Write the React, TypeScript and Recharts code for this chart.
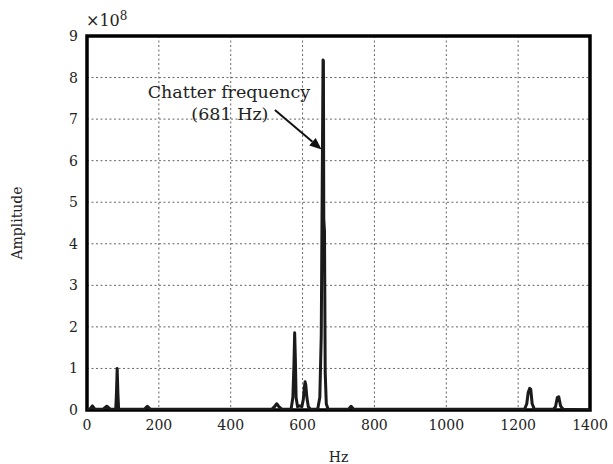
import React from "react";
import { LineChart, Line, XAxis, YAxis, CartesianGrid, ReferenceArea, ReferenceLine } from "recharts";

// Frequency (Hz)
const freqHz = [
  0, 8, 15, 22, 45, 55, 65, 80, 82, 84, 86, 88, 160, 168, 176,
  515, 522, 528, 534, 542, 568, 573, 576, 578, 580, 582, 586, 592, 598, 602, 605, 607, 609, 612, 616, 622,
  642, 648, 652, 655, 657, 658, 659, 661, 663, 666, 671,
  728, 735, 742,
  1218, 1224, 1228, 1232, 1235, 1239, 1245,
  1298, 1304, 1309, 1313, 1318, 1325, 1400,
];
// Amplitude (x10^8)
const amplitude = [
  0, 0.02, 0.1, 0.02, 0.02, 0.09, 0.02, 0.02, 0.4, 1.0, 0.4, 0.02, 0.02, 0.09, 0.02,
  0.02, 0.08, 0.15, 0.08, 0.02, 0.02, 0.3, 1.1, 1.86, 1.2, 0.3, 0.08, 0.1, 0.08, 0.25, 0.55, 0.68, 0.6, 0.3, 0.08, 0.02,
  0.02, 0.3, 1.8, 5.8, 8.42, 8.4, 4.6, 4.3, 0.9, 0.15, 0.02,
  0.02, 0.09, 0.02,
  0.02, 0.15, 0.42, 0.52, 0.5, 0.15, 0.02,
  0.02, 0.08, 0.3, 0.32, 0.1, 0.02, 0,
];
const xTicks = [0, 200, 400, 600, 800, 1000, 1200, 1400];
const yTicks = [0, 1, 2, 3, 4, 5, 6, 7, 8, 9];
const annotationLines = ["Chatter frequency", "(681 Hz)"];
const arrowFrom = { x: 523, y: 7.22 };
const arrowTo = { x: 653, y: 6.27 };

const data = freqHz.map((f, i) => ({ f, a: amplitude[i] }));

const FONT = "'DejaVu Serif', 'Liberation Serif', serif";

const ArrowShape = (props: any) => {
  const { x1, y1, x2, y2 } = props;
  if ([x1, y1, x2, y2].some((v) => typeof v !== "number" || isNaN(v))) return null;
  const ang = Math.atan2(y2 - y1, x2 - x1);
  const L = 12, W = 5;
  const bx = x2 - L * Math.cos(ang), by = y2 - L * Math.sin(ang);
  const px = -Math.sin(ang) * W, py = Math.cos(ang) * W;
  return (
    <g>
      <line x1={x1} y1={y1} x2={bx} y2={by} stroke="#111" strokeWidth={2} />
      <polygon points={`${x2},${y2} ${bx + px},${by + py} ${bx - px},${by - py}`} fill="#111" />
      <text x={x1 - 46} y={y1 - 12} textAnchor="middle" fontFamily={FONT} fontSize={17.5} fill="#222">
        {annotationLines[0]}
      </text>
      <text x={x1 - 45} y={y1 + 10} textAnchor="middle" fontFamily={FONT} fontSize={17.5} fill="#222">
        {annotationLines[1]}
      </text>
    </g>
  );
};

export default function App() {
  return (
    <div style={{ position: "absolute", left: 0, top: 0, width: 613, height: 464, background: "#fff" }}>
      <LineChart width={613} height={464} data={data} margin={{ top: 36, right: 23, bottom: 24, left: 47 }}>
        <CartesianGrid stroke="#666" strokeDasharray="2 2.5" strokeWidth={1} />
        <XAxis
          dataKey="f"
          type="number"
          domain={[0, 1400]}
          ticks={xTicks}
          allowDataOverflow
          axisLine={false}
          tickLine={false}
          tickSize={0}
          tickMargin={10}
          height={30}
          tick={{ fontFamily: FONT, fontSize: 14, fill: "#222" }}
          label={{ value: "Hz", position: "insideBottom", offset: -22, fontFamily: FONT, fontSize: 14, fill: "#222" }}
        />
        <YAxis
          type="number"
          domain={[0, 9]}
          ticks={yTicks}
          allowDataOverflow
          axisLine={false}
          tickLine={false}
          tickSize={0}
          tickMargin={9}
          width={40}
          tick={{ fontFamily: FONT, fontSize: 14, fill: "#222" }}
          label={{ value: "Amplitude", angle: -90, position: "insideLeft", offset: -30, fontFamily: FONT, fontSize: 14, fill: "#222", style: { textAnchor: "middle" } }}
        />
        <Line
          type="linear"
          dataKey="a"
          stroke="#1a1a1a"
          strokeWidth={3}
          dot={false}
          isAnimationActive={false}
          strokeLinejoin="round"
        />
        <ReferenceArea x1={0} x2={1400} y1={0} y2={9} fill="none" stroke="#000" strokeWidth={3.5} ifOverflow="visible" />
        <ReferenceLine
          segment={[arrowFrom, arrowTo]}
          ifOverflow="visible"
          shape={ArrowShape}
        />
      </LineChart>
      <div
        style={{
          position: "absolute",
          left: 86,
          top: 8,
          fontFamily: FONT,
          fontSize: 16,
          color: "#222",
          lineHeight: "16px",
        }}
      >
        ×10<sup style={{ fontSize: 12, verticalAlign: "6px" }}>8</sup>
      </div>
    </div>
  );
}
